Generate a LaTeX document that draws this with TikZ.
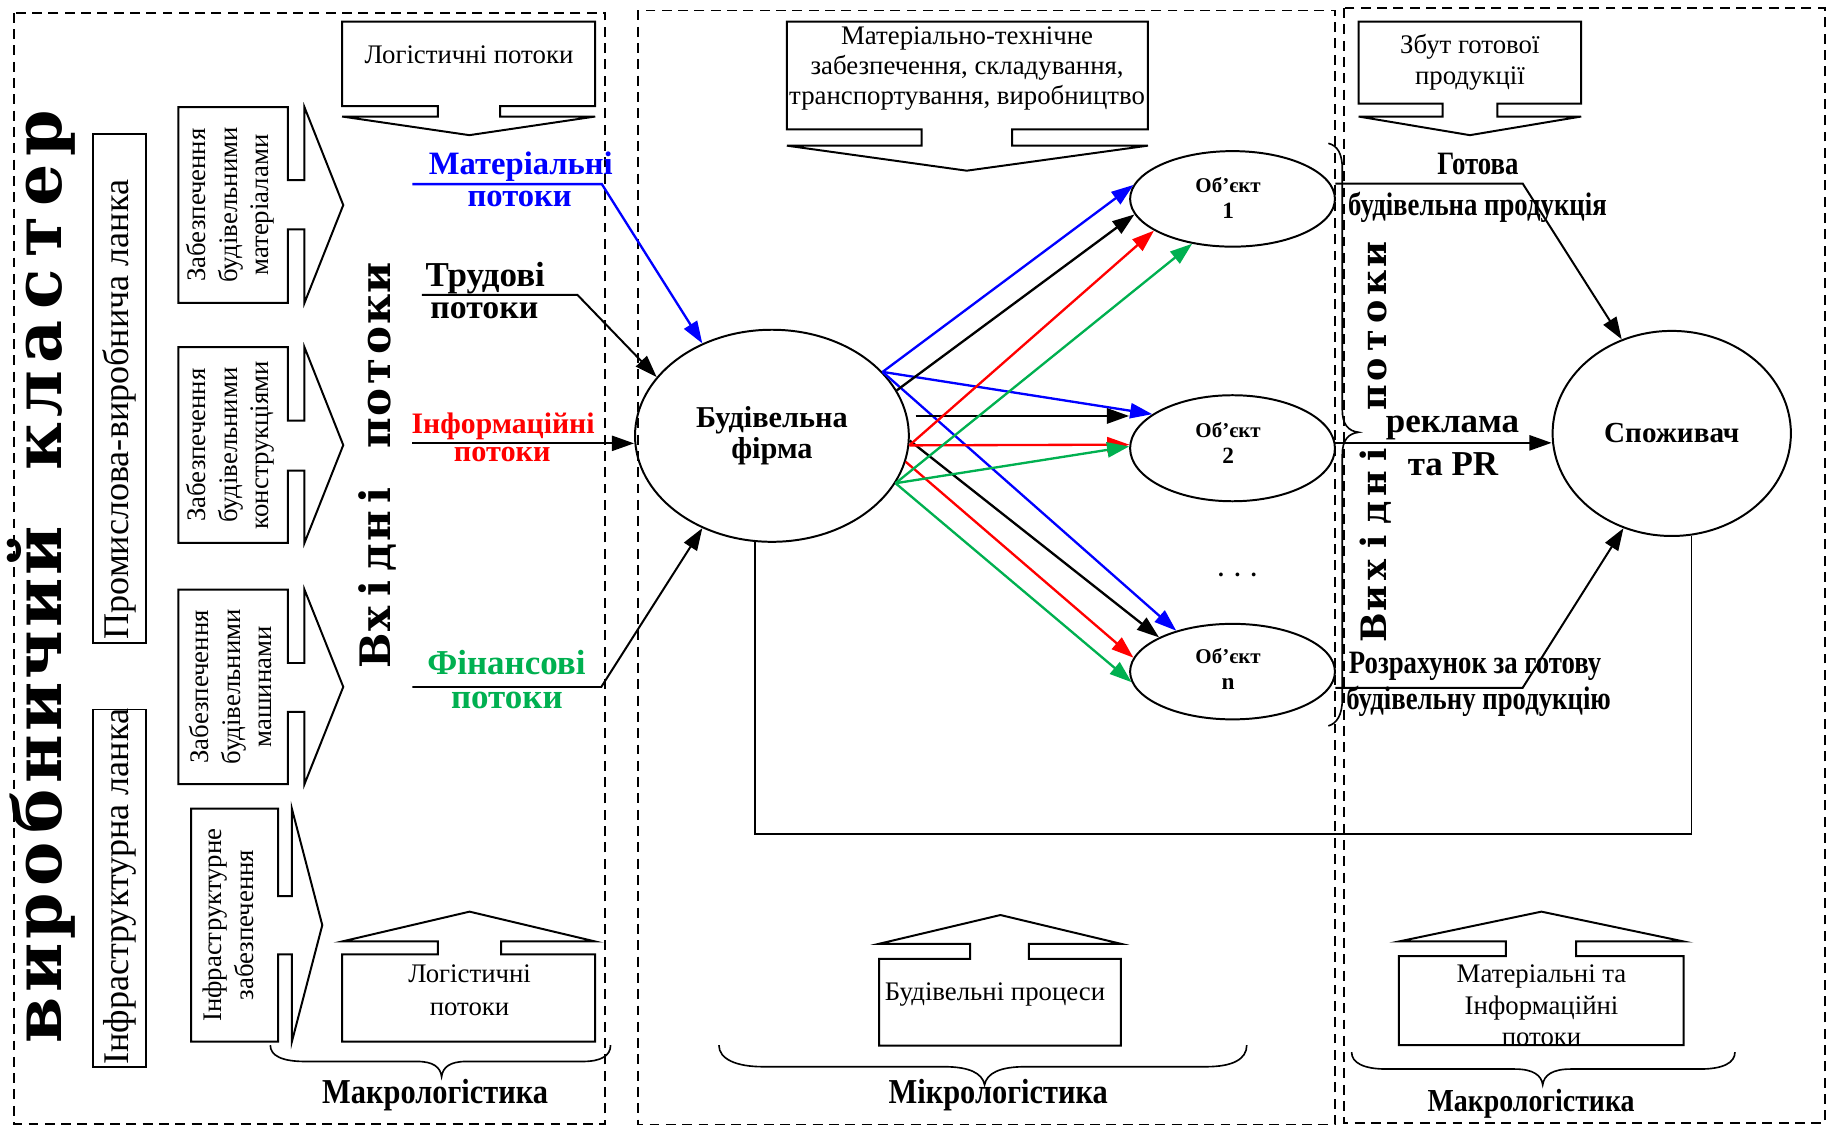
\documentclass[tikz,border=0pt]{standalone}
\usepackage{fontspec}
\setmainfont{Liberation Serif}
\newfontfamily\slabfnt{DejaVu Serif}
\newfontfamily\narrowfnt[FakeStretch=0.82]{Liberation Serif}
\newfontfamily\bracefnt[FakeStretch=0.87]{Liberation Serif}
\usetikzlibrary{arrows.meta,shapes.geometric,calc}
\newcommand{\fsz}[2]{\fontsize{#1}{#2}\selectfont}
% one letter centred in a fixed-width cell, for the spaced-out titles
\newlength{\cellw}
\newcommand{\lettercell}[1]{\makebox[\cellw]{#1}}
\definecolor{flowblue}{RGB}{0,0,255}
\definecolor{flowred}{RGB}{255,0,0}
\definecolor{flowgreen}{RGB}{0,176,80}

\begin{document}
\begin{tikzpicture}[x=1pt, y=-1pt,
  frame/.style={draw, line width=1.5pt, dash pattern=on 8.5pt off 5.5pt},
  callout/.style={draw, line width=1.7pt, line join=miter},
  bracepath/.style={draw, line width=1.4pt},
  oval/.style={draw, ellipse, line width=1.7pt, inner sep=0pt},
  flow/.style={line width=2pt, -{Triangle[length=19pt,width=13pt]}},
  lead/.style={line width=1.7pt, -{Triangle[length=19pt,width=13pt]}},
  fbline/.style={draw, line width=1.4pt},
  txt/.style={inner sep=0pt, align=center, font=\fsz{23}{27}},
  vtxt/.style={txt, rotate=90},
  flowlbl/.style={inner sep=0pt, anchor=base, font=\bfseries\fsz{28}{28}},
  narrowlbl/.style={inner sep=0pt, anchor=base, font=\narrowfnt\bfseries\fsz{28}{28}},
  bracelbl/.style={inner sep=0pt, anchor=base, font=\bracefnt\bfseries\fsz{30}{30}},
  objtxt/.style={inner sep=0pt, align=center, font=\bfseries\fsz{18}{22}},
  spaced/.style={inner sep=0pt, anchor=base, rotate=90}
]
\useasboundingbox (0,0) rectangle (1568,968);

% --- three dashed zones -------------------------------------------------
\draw[frame] (12,11) rectangle (519.5,964.5);
\draw[frame] (547.5,9) rectangle (1146,965);
\draw[frame] (1153.6,7) rectangle (1566,964);

% --- cluster title and its two links --------------------------------------
\node[spaced, font=\slabfnt\bfseries\fsz{57}{57}] (clus) at (53,495)
  {\setlength{\cellw}{44.8pt}\lettercell{в}\lettercell{и}\lettercell{р}\lettercell{о}\lettercell{б}\lettercell{н}\lettercell{и}\lettercell{ч}\lettercell{и}\lettercell{й}\lettercell{}\lettercell{к}\lettercell{л}\lettercell{а}\lettercell{с}\lettercell{т}\lettercell{е}\lettercell{р}};
\node[draw, line width=1.5pt, inner sep=0pt, minimum width=45.8pt, minimum height=437pt] (prombox) at (102.7,333.5) {};
\node[inner sep=0pt, rotate=90, anchor=base west, font=\fsz{31}{31}] (promtxt) at (110,549) {Промислова-виробнича ланка};
\node[draw, line width=1.5pt, inner sep=0pt, minimum width=45.8pt, minimum height=307pt] (infbox) at (102.7,762.5) {};
\node[inner sep=0pt, rotate=90, anchor=base west, font=\fsz{31}{31}] (inftxt) at (110,914) {Інфраструктурна ланка};

% --- supply callouts pointing right ---------------------------------------
\draw[callout] (153,92) -- (247,92) -- (247,154.5) -- (261.3,154.5) -- (261.3,92) -- (294.6,176) -- (261.3,260) -- (261.3,196.8) -- (247,196.8) -- (247,260) -- (153,260) -- cycle;
\node[vtxt] (sup1) at (198,176) {Забезпечення\\будівельними\\матеріалами};
\draw[callout] (153,298) -- (247,298) -- (247,361) -- (261.3,361) -- (261.3,298) -- (294.6,382) -- (261.3,466) -- (261.3,404) -- (247,404) -- (247,466) -- (153,466) -- cycle;
\node[vtxt] (sup2) at (198,382) {Забезпечення\\будівельними\\конструкціями};
\draw[callout] (153,506) -- (247,506) -- (247,569) -- (261.3,569) -- (261.3,506) -- (294.6,589.5) -- (261.3,673) -- (261.3,611) -- (247,611) -- (247,673) -- (153,673) -- cycle;
\node[vtxt] (sup3) at (198,589.5) {Забезпечення\\будівельними\\машинами};
\draw[callout] (164,694) -- (238.6,694) -- (238.6,769) -- (250.5,769) -- (250.5,694) -- (276.6,794) -- (250.5,894) -- (250.5,819) -- (238.6,819) -- (238.6,894) -- (164,894) -- cycle;
\node[vtxt] (sup4) at (196,794) {Інфраструктурне\\забезпечення};

% --- callouts pointing down ----------------------------------------------
\draw[callout] (293.6,18.6) -- (510.8,18.6) -- (510.8,91) -- (429.3,91) -- (429.3,100) -- (510.8,100) -- (402.8,116) -- (293.6,100) -- (375.7,100) -- (375.7,91) -- (293.6,91) -- cycle;
\node[txt, anchor=base] (t1) at (402.5,54.4) {Логістичні потоки};
\draw[callout] (675.3,18.6) -- (985.2,18.6) -- (985.2,111) -- (868.6,111) -- (868.6,125) -- (985.2,125) -- (829.7,146.5) -- (675.3,125) -- (791,125) -- (791,111) -- (675.3,111) -- cycle;
\node[txt, font=\fsz{23}{25.8}] (t2) at (830,59) {Матеріально-технічне\\забезпечення, складування,\\транспортування, виробництво};
\draw[callout] (1166,18.6) -- (1357,18.6) -- (1357,89) -- (1285,89) -- (1285,100) -- (1357,100) -- (1261.5,116) -- (1166,100) -- (1238,100) -- (1238,89) -- (1166,89) -- cycle;
\node[txt, font=\fsz{23}{26}] (t3) at (1261.5,53.5) {Збут готової\\продукції};

% --- callouts pointing up --------------------------------------------------
\draw[callout] (293.6,894) -- (293.6,819) -- (375.7,819) -- (375.7,808) -- (293.6,808) -- (403,782.4) -- (510.8,808) -- (430,808) -- (430,819) -- (510.8,819) -- (510.8,894) -- cycle;
\node[txt, font=\fsz{23}{28}] (b1) at (403,850) {Логістичні\\потоки};
\draw[callout] (754.4,897.4) -- (754.4,823) -- (832.5,823) -- (832.5,810) -- (754.4,810) -- (858.6,785.3) -- (962,810) -- (883,810) -- (883,823) -- (962,823) -- (962,897.4) -- cycle;
\node[txt, anchor=base] (b2) at (854,859) {Будівельні процеси};
\draw[callout] (1200.6,897) -- (1200.6,820.5) -- (1292.3,820.5) -- (1292.3,808) -- (1200.6,808) -- (1322.9,782.4) -- (1445,808) -- (1352.6,808) -- (1352.6,820.5) -- (1445,820.5) -- (1445,897) -- cycle;
\node[txt] (b3) at (1323,863) {Матеріальні та\\Інформаційні\\потоки};

% --- braces and their captions --------------------------------------------
\draw[bracepath] (232,897) .. controls (232,906) and (242,911) .. (262,911) -- (358,911) .. controls (372,911) and (378,916) .. (379,924) .. controls (380,916) and (386,911) .. (400,911) -- (500,911) .. controls (516,911) and (524,906) .. (524,897);
\node[bracelbl] (macro1) at (373.5,947) {Макрологістика};
\draw[bracepath] (617,897) .. controls (617,909) and (632,915.5) .. (655,915.5) -- (810,915.5) .. controls (832,915.5) and (843,921) .. (845,931) .. controls (847,921) and (858,915.5) .. (880,915.5) -- (1035,915.5) .. controls (1058,915.5) and (1070,909) .. (1070,897);
\node[bracelbl] (micro) at (856.7,947) {Мікрологістика};
\draw[bracepath] (1160,903) .. controls (1160,912) and (1170,917.5) .. (1190,917.5) -- (1300,917.5) .. controls (1316,917.5) and (1323,923) .. (1324,931) .. controls (1325,923) and (1332,917.5) .. (1348,917.5) -- (1459,917.5) .. controls (1479,917.5) and (1489,912) .. (1489,903);
\node[bracelbl, font=\bracefnt\bfseries\fsz{27.5}{27.5}] (macro2) at (1314,954) {Макрологістика};
\draw[bracepath] (1140,123) .. controls (1148,125) and (1152,132) .. (1152,145) -- (1152,352) .. controls (1152,364) and (1157,370) .. (1166,371) .. controls (1157,372) and (1152,378) .. (1152,390) -- (1152,600) .. controls (1152,614) and (1147,621) .. (1140,623);

% --- vertical flow captions -------------------------------------------------
\node[spaced, font=\slabfnt\bfseries\fsz{36}{36}] (vin) at (335,398.5)
  {\setlength{\cellw}{26.6pt}\lettercell{В}\lettercell{х}\lettercell{і}\lettercell{д}\lettercell{н}\lettercell{і}\lettercell{}\lettercell{п}\lettercell{о}\lettercell{т}\lettercell{о}\lettercell{к}\lettercell{и}};
\node[spaced, font=\slabfnt\bfseries\fsz{30}{30}] (vout) at (1190,378.5)
  {\setlength{\cellw}{24.6pt}\lettercell{В}\lettercell{и}\lettercell{х}\lettercell{і}\lettercell{д}\lettercell{н}\lettercell{і}\lettercell{}\lettercell{п}\lettercell{о}\lettercell{т}\lettercell{о}\lettercell{к}\lettercell{и}};

% --- firm, objects, consumer ------------------------------------------------
\node[oval, minimum width=235pt, minimum height=182pt, align=center, font=\bfseries\fsz{26}{27}] (firm) at (662.5,374) {Будівельна\\фірма};
\node[oval, minimum width=175.8pt, minimum height=82pt] (o1) at (1057.8,170.7) {};
\node[oval, minimum width=175.8pt, minimum height=91pt] (o2) at (1057.8,384.7) {};
\node[oval, minimum width=175.8pt, minimum height=82pt] (on) at (1057.8,576.4) {};
\node[objtxt] (o1t) at (1054,170) {Об’єкт\\{\fsz{20}{22}1}};
\node[objtxt] (o2t) at (1054,380) {Об’єкт\\{\fsz{20}{22}2}};
\node[objtxt] (ont) at (1054,574.4) {Об’єкт\\{\fsz{20}{22}n}};
\node[inner sep=0pt, anchor=base, font=\bfseries\fsz{20}{20}] (dots) at (1062,495) {.\hspace{9pt}.\hspace{9pt}.};
\node[oval, minimum width=204.5pt, minimum height=176pt, font=\bfseries\fsz{25}{25}] (spozh) at (1434.75,372) {Споживач};

% --- incoming flows ---------------------------------------------------------
\node[flowlbl, text=flowblue] (lmat1) at (447,150) {Матеріальні};
\node[flowlbl, text=flowblue] (lmat2) at (446,177.6) {потоки};
\coordinate (matL) at (354,158);
\coordinate (matR) at (516.5,158);
\draw[flow, flowblue] (matL) -- (matR) -- (firm.127);

\node[flowlbl, font=\bfseries\fsz{30}{30}] (ltr1) at (416.5,246) {Трудові};
\node[flowlbl, font=\bfseries\fsz{29}{29}] (ltr2) at (415.7,273) {потоки};
\coordinate (trL) at (362,253);
\coordinate (trR) at (495.5,253);
\draw[lead] (trL) -- (trR) -- (firm.153);

\node[flowlbl, text=flowred, font=\bfseries\fsz{25.5}{25.5}] (linf1) at (431.8,372) {Інформаційні};
\node[flowlbl, text=flowred, font=\bfseries\fsz{26}{26}] (linf2) at (431,396.2) {потоки};
\coordinate (infL) at (354,380.5);
\draw[lead] (infL) -- (infL -| firm.west);

\node[flowlbl, text=flowgreen, font=\bfseries\fsz{30}{30}] (lfin1) at (434.6,579) {Фінансові};
\node[flowlbl, text=flowgreen, font=\bfseries\fsz{30}{30}] (lfin2) at (435,608) {потоки};
\coordinate (finL) at (354,589.6);
\coordinate (finR) at (516,589.6);
\draw[lead] (finL) -- (finR) -- (firm.233);

% --- flows from the firm to the sites ---------------------------------------
\draw[flow, flowblue] (firm.30) -- (o1.172);
\draw[flow, flowblue] (firm.30) -- (o2.157);
\draw[flow, flowblue] (firm.30) -- (on.144);
\coordinate (k2) at ($(firm.east)+(5,-17)$);
\draw[flow] (firm.20) -- (o1.189);
\draw[flow] (k2) -- (k2 -| o2.west);
\draw[flow] (firm.358) -- (on.155);
\draw[flow, flowred] (firm.356) -- (o1.202);
\draw[flow, flowred] (firm.356) -- (o2.178);
\draw[flow, flowred] (firm.349) -- (on.172);
\draw[flow, flowgreen] (firm.339) -- (o1.228);
\draw[flow, flowgreen] (firm.339) -- (o2.179);
\draw[flow, flowgreen] (firm.339) -- (on.186);

% --- outgoing flows ---------------------------------------------------------
\node[narrowlbl] (lgot1) at (1268.4,150) {Готова};
\node[narrowlbl] (lgot2) at (1268,185) {будівельна продукція};
\coordinate (gotL) at (1146,157.5);
\coordinate (gotR) at (1306.8,157.5);
\draw[lead] (gotL) -- (gotR) -- (spozh.118);

\node[flowlbl, font=\bfseries\fsz{30}{30}] (lrek1) at (1246.6,371) {реклама};
\node[flowlbl, font=\bfseries\fsz{30}{30}] (lrek2) at (1247,408) {та PR};
\draw[lead] (o2.3) -- (o2.3 -| spozh.west);

\node[narrowlbl] (lroz1) at (1266,578) {Розрахунок за готову};
\node[narrowlbl] (lroz2) at (1269,609) {будівельну продукцію};
\coordinate (rozL) at (1146,590.3);
\coordinate (rozR) at (1306.8,590.3);
\draw[lead] (rozL) -- (rozR) -- (spozh.243);

% --- feedback loop from consumer back to firm --------------------------------
\coordinate (fb) at (1000,716);
\draw[fbline] (firm.261) -- (firm.261 |- fb) -| (spozh.281);

\end{tikzpicture}
\end{document}
